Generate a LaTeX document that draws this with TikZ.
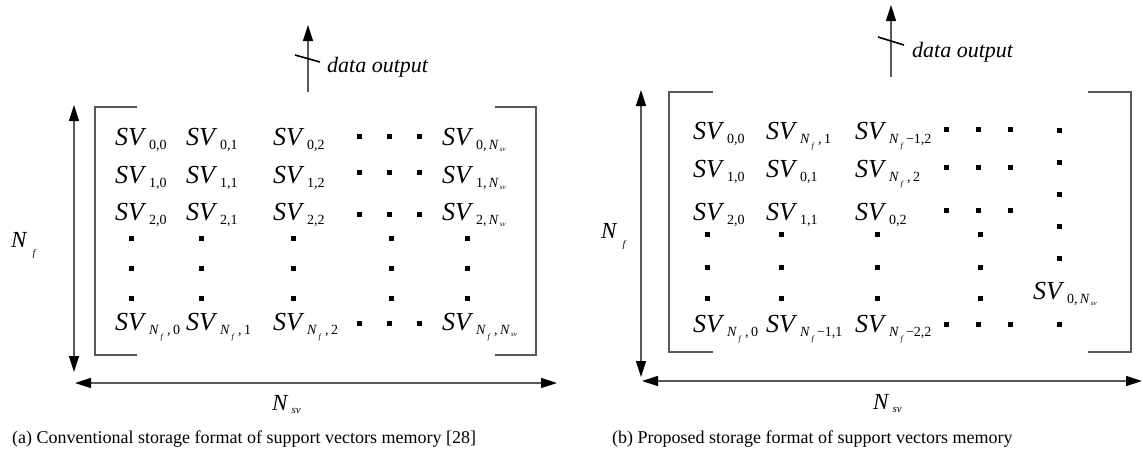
\documentclass[tikz,border=0pt]{standalone}
\usepackage{fontspec}
\setmainfont{Liberation Serif}
\usetikzlibrary{arrows.meta}
\tikzset{wire/.style={draw=black!65, line width=1.3pt}}
\tikzset{slash/.style={draw=black, line width=1.6pt}}
\tikzset{ent/.style={anchor=base west, inner sep=0pt, font=\fontsize{26}{26}\selectfont}}
\tikzset{dimlbl/.style={anchor=base west, inner sep=0pt, font=\fontsize{23}{23}\selectfont}}
\tikzset{outlbl/.style={anchor=west, inner sep=0pt, font=\fontsize{22}{22}\selectfont\itshape}}
\tikzset{caplbl/.style={anchor=base west, inner sep=0pt, font=\fontsize{18}{18}\selectfont}}
\newcommand{\svx}[1]{\textit{SV}\hspace{2.5pt}\raisebox{-4pt}{\fontsize{14}{14}\selectfont #1}}
\newcommand{\sNf}{\textit{N}\hspace{1.5pt}\raisebox{-5pt}{\fontsize{8}{8}\selectfont\textit{f}}}
\newcommand{\sNsv}{\textit{N}\hspace{1pt}\raisebox{-2pt}{\fontsize{7}{7}\selectfont\textit{sv}}}
\newcommand{\bNf}{\textit{N}\hspace{5pt}\raisebox{-9pt}{\fontsize{10}{10}\selectfont\textit{f}}}
\newcommand{\bNsv}{\textit{N}\hspace{3pt}\raisebox{-3pt}{\fontsize{11}{11}\selectfont\textit{sv}}}

\begin{document}
\begin{tikzpicture}[x=1pt, y=-1pt, >={Triangle[length=16pt, width=10pt, color=black]}]
  \useasboundingbox (0,0) rectangle (1143,455);

  % (a) conventional format
  \coordinate (a-out0) at (308,92);
  \coordinate (a-out1) at (308,25);
  \draw[wire, ->] (a-out0) -- (a-out1);
  \draw[slash] (295,55) -- (320,62);
  \node[outlbl] (a-data) at (327,67) {data output};

  \draw[wire] (137,107) -- (95,107) -- (95,355) -- (137,355);
  \draw[wire] (495,107) -- (536,107) -- (536,355) -- (495,355);

  \coordinate (a-v0) at (74,105);
  \coordinate (a-v1) at (74,372);
  \coordinate (a-h0) at (75,383);
  \coordinate (a-h1) at (557,383);
  \draw[wire, <->] (a-v0) -- (a-v1);
  \draw[wire, <->] (a-h0) -- (a-h1);
  \node[dimlbl] (a-nf) at (11,247) {\bNf};
  \node[dimlbl] (a-nsv) at (272,410) {\bNsv};

  \foreach \rw/\yy in {0/145,1/183,2/220} {
    \foreach \cl/\xx in {0/115,1/186,2/273}
      \node[ent] (a-\rw\cl) at (\xx,\yy) {\svx{\rw,\cl}};
    \node[ent] (a-\rw n) at (442,\yy) {\svx{\rw,\,\sNsv}};
  }
  \foreach \cl/\xx in {0/115,1/186,2/273}
    \node[ent] (a-f\cl) at (\xx,330) {\svx{\sNf\ ,\,\cl}};
  \node[ent] (a-fn) at (442,330) {\svx{\sNf\ ,\,\sNsv}};

  \foreach \yy in {136,172,214,323}
    \foreach \xx in {359,389,419}
      \fill (\xx-2.5,\yy-2.5) rectangle ++(5,5);
  \foreach \yy in {238,268,298}
    \foreach \xx in {131,201,293,391,467}
      \fill (\xx-2.5,\yy-2.5) rectangle ++(5,5);

  % (b) proposed format
  \coordinate (b-out0) at (891,77);
  \coordinate (b-out1) at (891,5);
  \draw[wire, ->] (b-out0) -- (b-out1);
  \draw[slash] (878,37) -- (904,45);
  \node[outlbl] (b-data) at (912,52) {data output};

  \draw[wire] (713,92) -- (669,92) -- (669,352) -- (713,352);
  \draw[wire] (1088,92) -- (1131,92) -- (1131,352) -- (1088,352);

  \coordinate (b-v0) at (641,90);
  \coordinate (b-v1) at (641,377);
  \coordinate (b-h0) at (642,381);
  \coordinate (b-h1) at (1142,381);
  \draw[wire, <->] (b-v0) -- (b-v1);
  \draw[wire, <->] (b-h0) -- (b-h1);
  \node[dimlbl] (b-nf) at (601,238) {\bNf};
  \node[dimlbl] (b-nsv) at (873,409) {\bNsv};

  \node[ent] (b-00) at (693,139) {\svx{0,0}};
  \node[ent] (b-01) at (766,139) {\svx{\sNf\ ,\,1}};
  \node[ent] (b-02) at (855,139) {\svx{\sNf\,−1,2}};
  \node[ent] (b-10) at (693,177) {\svx{1,0}};
  \node[ent] (b-11) at (766,177) {\svx{0,1}};
  \node[ent] (b-12) at (855,177) {\svx{\sNf\ ,\,2}};
  \node[ent] (b-20) at (693,220) {\svx{2,0}};
  \node[ent] (b-21) at (766,220) {\svx{1,1}};
  \node[ent] (b-22) at (855,220) {\svx{0,2}};
  \node[ent] (b-f0) at (693,332) {\svx{\sNf\ ,\,0}};
  \node[ent] (b-f1) at (766,332) {\svx{\sNf\,−1,1}};
  \node[ent] (b-f2) at (855,332) {\svx{\sNf\,−2,2}};
  \node[ent] (b-0n) at (1033,299) {\svx{0,\,\sNsv}};

  \foreach \yy in {129,167,210,324}
    \foreach \xx in {946,978,1010}
      \fill (\xx-2.5,\yy-2.5) rectangle ++(5,5);
  \foreach \yy in {234,267,298}
    \foreach \xx in {707,781,877,980}
      \fill (\xx-2.5,\yy-2.5) rectangle ++(5,5);
  \foreach \yy in {130,162,194,226,258,324}
    \fill (1059.5-2.5,\yy-2.5) rectangle ++(5,5);

  % captions
  \node[caplbl] (a-cap) at (12,443) {(a) Conventional storage format of support vectors memory [28]};
  \node[caplbl] (b-cap) at (612,443) {(b) Proposed storage format of support vectors memory};
\end{tikzpicture}
\end{document}
